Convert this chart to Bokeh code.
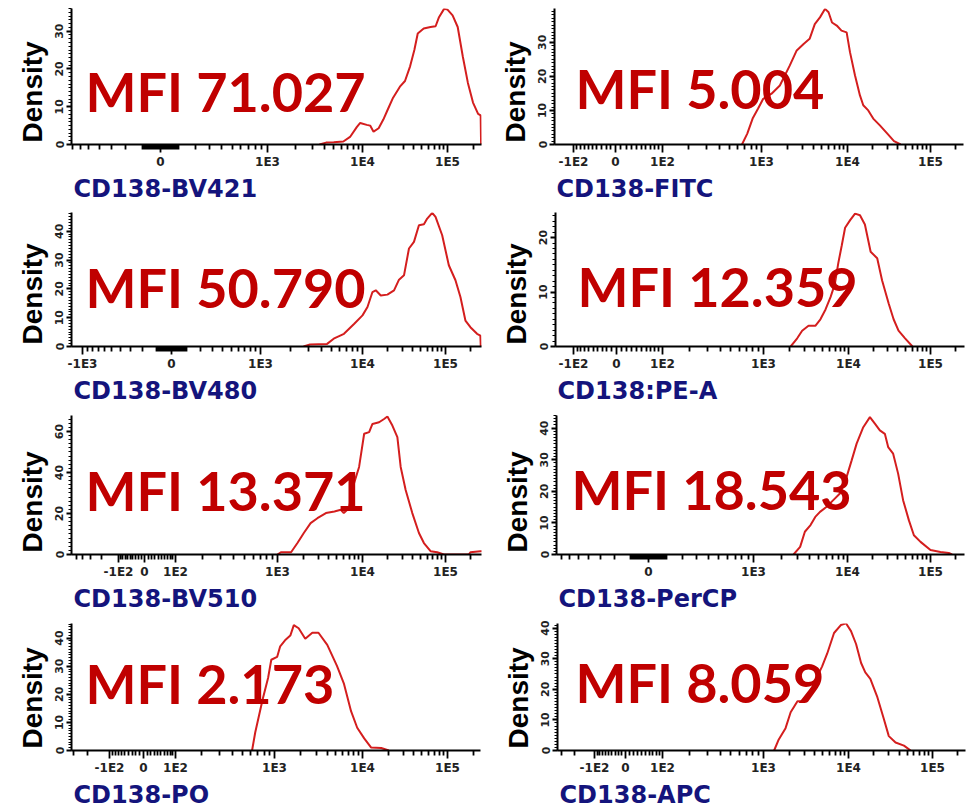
import numpy as np
from bokeh.plotting import figure
from bokeh.models import FixedTicker, SingleIntervalTicker, Label, Title, Range1d
from bokeh.layouts import column, row
from bokeh.embed import file_html
from bokeh.resources import INLINE

# ---------------- data ----------------
CHANNELS = ["CD138-BV421", "CD138-FITC", "CD138-BV480", "CD138:PE-A",
            "CD138-BV510", "CD138-PerCP", "CD138-PO", "CD138-APC"]
MFI_LABELS = ["MFI 71.027", "MFI 5.004", "MFI 50.790", "MFI 12.359",
              "MFI 13.371", "MFI 18.543", "MFI 2.173", "MFI 8.059"]

# x = log10(fluorescence intensity), y = density
BV421_LOG10 = [3.55, 3.62, 3.70, 3.80, 3.87, 3.94, 3.976, 4.05, 4.09, 4.13, 4.19, 4.245, 4.30, 4.36,
               4.44, 4.50, 4.56, 4.61, 4.65, 4.72, 4.80, 4.86, 4.90, 4.96, 5.00, 5.06, 5.12, 5.18,
               5.24, 5.30, 5.36, 5.39, 5.395]
BV421_DENS = [0.0, 0.5, 0.6, 0.8, 2.0, 4.6, 5.7, 5.2, 5.0, 3.4, 4.3, 6.6, 9.4, 12.4,
              15.3, 16.8, 20.7, 25.0, 29.4, 30.7, 31.1, 31.3, 33.7, 35.9, 35.7, 34.2, 31.1, 23.3,
              16.3, 11.1, 8.1, 7.7, 0.0]

FITC_LOG10 = [2.817, 2.867, 2.917, 2.967, 3.02, 3.117, 3.214, 3.33, 3.41, 3.49, 3.56, 3.62, 3.68,
              3.74, 3.78, 3.82, 3.875, 3.93, 3.99, 4.03, 4.09, 4.15, 4.19, 4.25, 4.31, 4.39, 4.48,
              4.56, 4.64]
FITC_DENS = [0.0, 3.2, 7.6, 10.5, 13.4, 14.9, 17.3, 23.2, 27.6, 29.5, 31.0, 35.3, 37.3,
             39.8, 38.8, 35.8, 34.9, 33.4, 32.9, 27.1, 20.3, 14.4, 11.5, 10.0, 7.6, 5.6, 3.2,
             1.0, 0.0]

BV480_LOG10 = [3.426, 3.49, 3.656, 3.72, 3.82, 3.92, 4.0, 4.06, 4.12, 4.16, 4.22, 4.30, 4.38, 4.44,
               4.50, 4.56, 4.62, 4.68, 4.74, 4.78, 4.84, 4.88, 4.96, 5.04, 5.12, 5.18, 5.24, 5.30,
               5.38, 5.42, 5.425]
BV480_DENS = [0.0, 0.7, 0.9, 2.7, 4.4, 7.9, 10.8, 13.7, 18.9, 19.5, 17.7, 18.0, 19.5, 23.2,
              24.7, 34.0, 36.3, 42.1, 42.4, 44.4, 46.4, 45.0, 38.6, 28.2, 23.0, 17.2, 9.0, 6.7,
              4.4, 3.8, 0.0]

PE_LOG10 = [3.32, 3.397, 3.455, 3.53, 3.61, 3.67, 3.73, 3.79, 3.84, 3.88, 3.92, 3.96, 4.02, 4.08,
            4.14, 4.20, 4.27, 4.35, 4.41, 4.49, 4.55, 4.61, 4.69, 4.78]
PE_DENS = [0.0, 1.5, 2.9, 3.8, 3.8, 5.0, 6.8, 9.1, 11.5, 15.3, 18.5, 21.8, 23.2, 24.4,
           24.1, 22.4, 17.4, 16.2, 12.1, 7.9, 5.0, 2.9, 1.5, 0.0]

BV510_LOG10 = [3.0, 3.04, 3.16, 3.235, 3.31, 3.39, 3.47, 3.57, 3.67, 3.745, 3.78, 3.84, 3.90, 3.96,
               4.02, 4.08, 4.12, 4.20, 4.26, 4.30, 4.36, 4.42, 4.46, 4.52, 4.60, 4.68, 4.74, 4.82,
               4.90, 4.98, 5.28, 5.30, 5.42, 5.44]
BV510_DENS = [0.0, 1.1, 1.1, 5.6, 10.5, 15.3, 17.7, 20.2, 21.0, 21.8, 20.2, 22.6, 34.7, 42.7,
              58.9, 59.7, 63.7, 64.5, 66.1, 67.3, 62.9, 57.3, 42.7, 31.5, 20.2, 10.5, 5.6, 1.6,
              1.1, 0.0, 0.0, 1.1, 1.6, 1.6]

PERCP_LOG10 = [3.43, 3.50, 3.55, 3.61, 3.66, 3.71, 3.78, 3.85, 3.92, 3.99, 4.05, 4.11, 4.19, 4.27,
               4.33, 4.39, 4.45, 4.49, 4.55, 4.61, 4.67, 4.74, 4.80, 4.88, 5.00, 5.12, 5.22, 5.26]
PERCP_DENS = [0.0, 2.4, 7.2, 9.3, 11.9, 13.5, 15.1, 17.2, 19.3, 24.5, 29.8, 35.1, 40.3, 43.5,
              41.4, 39.3, 38.2, 34.0, 31.9, 25.6, 17.2, 10.8, 6.1, 4.0, 1.4, 0.8, 0.5, 0.0]

PO_LOG10 = [2.79, 2.82, 2.89, 2.94, 2.97, 3.03, 3.065, 3.12, 3.18, 3.22, 3.275, 3.35, 3.43, 3.50,
            3.60, 3.71, 3.79, 3.87, 3.94, 4.02, 4.10, 4.22, 4.31]
PO_DENS = [0.0, 6.5, 18.3, 25.8, 32.3, 33.3, 37.1, 39.2, 40.9, 44.6, 43.5, 39.8, 41.9, 41.9,
           37.6, 30.1, 23.7, 14.0, 8.1, 4.3, 1.1, 0.9, 0.0]

APC_LOG10 = [3.125, 3.18, 3.26, 3.32, 3.40, 3.46, 3.54, 3.62, 3.69, 3.75, 3.83, 3.91, 3.97, 4.03,
             4.09, 4.15, 4.20, 4.26, 4.34, 4.42, 4.48, 4.56, 4.66, 4.74]
APC_DENS = [0.0, 3.6, 7.3, 12.5, 16.1, 16.1, 18.7, 23.4, 27.5, 31.7, 38.4, 41.0, 41.6, 39.0,
            34.8, 28.6, 25.5, 23.4, 17.7, 10.4, 4.7, 2.6, 1.6, 0.0]

# axis tick values / labels
TICKS_POS = [0, 1e3, 1e4, 1e5]
TICKS_POS_LABELS = ["0", "1E3", "1E4", "1E5"]
TICKS_NEG3 = [-1e3, 0, 1e3, 1e4, 1e5]
TICKS_NEG3_LABELS = ["-1E3", "0", "1E3", "1E4", "1E5"]
TICKS_NEG2 = [-1e2, 0, 1e2, 1e3, 1e4, 1e5]
TICKS_NEG2_LABELS = ["-1E2", "0", "1E2", "1E3", "1E4", "1E5"]

Y_MAX = [36.0, 39.9, 46.5, 24.6, 67.8, 44.0, 45.2, 41.5]
Y_STEP = [10, 10, 10, 10, 20, 10, 10, 10]

# ---------------- layout (pixels) ----------------
CELL_X = [(0, 490), (490, 975)]
CELL_Y = [(0, 203), (203, 410), (410, 614), (614, 809)]
FRAMES = [(71, 481, 8, 146), (554, 963, 8, 146),
          (71, 481, 212, 346), (555, 964, 209, 348),
          (71, 481, 415, 555), (556, 964, 415, 554),
          (71, 480, 617, 757), (557, 965, 623, 757)]
# display positions (page px) of the labelled ticks -> defines the biexponential display scale
TICK_PX = [[160, 267, 362, 447],
           [573, 615, 662, 761, 847, 930],
           [82, 171, 260, 362, 445],
           [573, 616, 662, 763, 848, 930],
           [118, 144, 175, 277, 362, 445],
           [648, 753, 847, 930],
           [109, 143, 175, 274, 362, 447],
           [594, 625, 662, 763, 848, 932]]
LIN_WIDTH = [150, 50, 150, 50, 50, 150, 50, 50]
LIN_STEP = [4, 10, 4, 10, 10, 4, 10, 10]
MFI_XY = [(85, 92), (575, 89), (85, 287), (577, 286),
          (85, 491), (571, 489), (85, 683), (575, 685)]

CURVES = [(BV421_LOG10, BV421_DENS), (FITC_LOG10, FITC_DENS), (BV480_LOG10, BV480_DENS),
          (PE_LOG10, PE_DENS), (BV510_LOG10, BV510_DENS), (PERCP_LOG10, PERCP_DENS),
          (PO_LOG10, PO_DENS), (APC_LOG10, APC_DENS)]
TICKS = [(TICKS_POS, TICKS_POS_LABELS), (TICKS_NEG2, TICKS_NEG2_LABELS),
         (TICKS_NEG3, TICKS_NEG3_LABELS), (TICKS_NEG2, TICKS_NEG2_LABELS),
         (TICKS_NEG2, TICKS_NEG2_LABELS), (TICKS_POS, TICKS_POS_LABELS),
         (TICKS_NEG2, TICKS_NEG2_LABELS), (TICKS_NEG2, TICKS_NEG2_LABELS)]

CURVE_COLOR = "#d41e1e"
MFI_COLOR = "#c00000"
LABEL_COLOR = "#14147c"


def biex_scale(tick_values, tick_px, L):
    tv = np.asarray(tick_values, float)
    tp = np.asarray(tick_px, float)

    def u(v):
        return np.arcsinh(np.asarray(v, float) / (2.0 * L)) / np.log(10.0)

    ut = u(tv)
    s0 = (tp[1] - tp[0]) / (ut[1] - ut[0])
    s1 = (tp[-1] - tp[-2]) / (ut[-1] - ut[-2])

    def f(v):
        uv = u(v)
        out = np.interp(uv, ut, tp)
        out = np.where(uv < ut[0], tp[0] + (uv - ut[0]) * s0, out)
        out = np.where(uv > ut[-1], tp[-1] + (uv - ut[-1]) * s1, out)
        return out
    return f


def make_panel(i):
    col = i % 2
    rw = i // 2
    cx0, cx1 = CELL_X[col]
    cy0, cy1 = CELL_Y[rw]
    fl, fr, ft, fb = FRAMES[i]
    p = figure(width=cx1 - cx0, height=cy1 - cy0,
               x_range=Range1d(fl, fr), y_range=Range1d(0, Y_MAX[i]),
               output_backend="svg", toolbar_location=None,
               min_border_left=fl - cx0, min_border_right=cx1 - fr,
               min_border_top=ft - cy0, min_border_bottom=cy1 - fb,
               background_fill_color="white", border_fill_color="white")
    p.outline_line_color = None
    p.xgrid.visible = False
    p.ygrid.visible = False

    tvals, tlabels = TICKS[i]
    f = biex_scale(tvals, TICK_PX[i], LIN_WIDTH[i])
    major = [round(float(x), 3) for x in f(tvals)]
    lin = [float(s * k) for s in (-1, 1) for k in range(LIN_STEP[i], 100, LIN_STEP[i])]
    logs = [float(s * k * 10 ** d) for s in (-1, 1) for d in range(2, 6) for k in range(1, 10)]
    cand = sorted(set(lin + logs) - set(float(t) for t in tvals))
    minor = [round(float(x), 3) for x in f(cand) if fl <= float(x) <= fr]
    p.xaxis.ticker = FixedTicker(ticks=major, minor_ticks=minor)
    p.xaxis.major_label_overrides = {m: lab for m, lab in zip(major, tlabels)}

    p.yaxis.ticker = SingleIntervalTicker(interval=Y_STEP[i], num_minor_ticks=10)
    p.yaxis.major_label_orientation = "vertical"

    for ax in (p.xaxis, p.yaxis):
        ax.axis_line_width = 2
        ax.axis_line_color = "black"
        ax.major_tick_in = 0
        ax.minor_tick_in = 0
        ax.major_tick_line_width = 1.8
        ax.minor_tick_line_width = 1.8
        ax.major_tick_line_color = "black"
        ax.minor_tick_line_color = "black"
        ax.major_label_text_font = "DejaVu Sans"
        ax.major_label_text_font_style = "bold"
        ax.major_label_text_font_size = "12px"
        ax.major_label_text_color = "#222222"
    p.xaxis.major_tick_out = 8
    p.xaxis.minor_tick_out = 5
    p.xaxis.major_label_standoff = 2
    p.yaxis.major_tick_out = 5
    p.yaxis.minor_tick_out = 3
    p.yaxis.minor_tick_line_width = 1.2
    p.yaxis.major_label_text_font_size = "11px"
    p.yaxis.major_label_standoff = 3

    p.add_layout(Title(text="Density", align="left", offset=2, standoff=9,
                       text_font="Liberation Sans", text_font_size="28px",
                       text_font_style="bold", text_color="black"), "left")
    p.add_layout(Title(text=CHANNELS[i], align="left", offset=2, standoff=2,
                       text_font="DejaVu Sans", text_font_size="24px",
                       text_font_style="bold", text_color=LABEL_COLOR), "below")

    lx, ly = CURVES[i]
    xs = f(10.0 ** np.asarray(lx))
    p.line(x=xs, y=ly, line_color=CURVE_COLOR, line_width=2.0)

    mx, my = MFI_XY[i]
    ydata = Y_MAX[i] * (fb - my) / (fb - ft)
    p.add_layout(Label(x=mx, y=ydata, text=MFI_LABELS[i], text_font="Lato",
                       text_font_style="bold", text_font_size="54px",
                       text_color=MFI_COLOR, text_baseline="alphabetic", text_align="left"))
    return p


panels = [make_panel(i) for i in range(8)]
layout = column(row(panels[0], panels[1]), row(panels[2], panels[3]),
                row(panels[4], panels[5]), row(panels[6], panels[7]))

open("out.html", "w").write(file_html(layout, INLINE))
